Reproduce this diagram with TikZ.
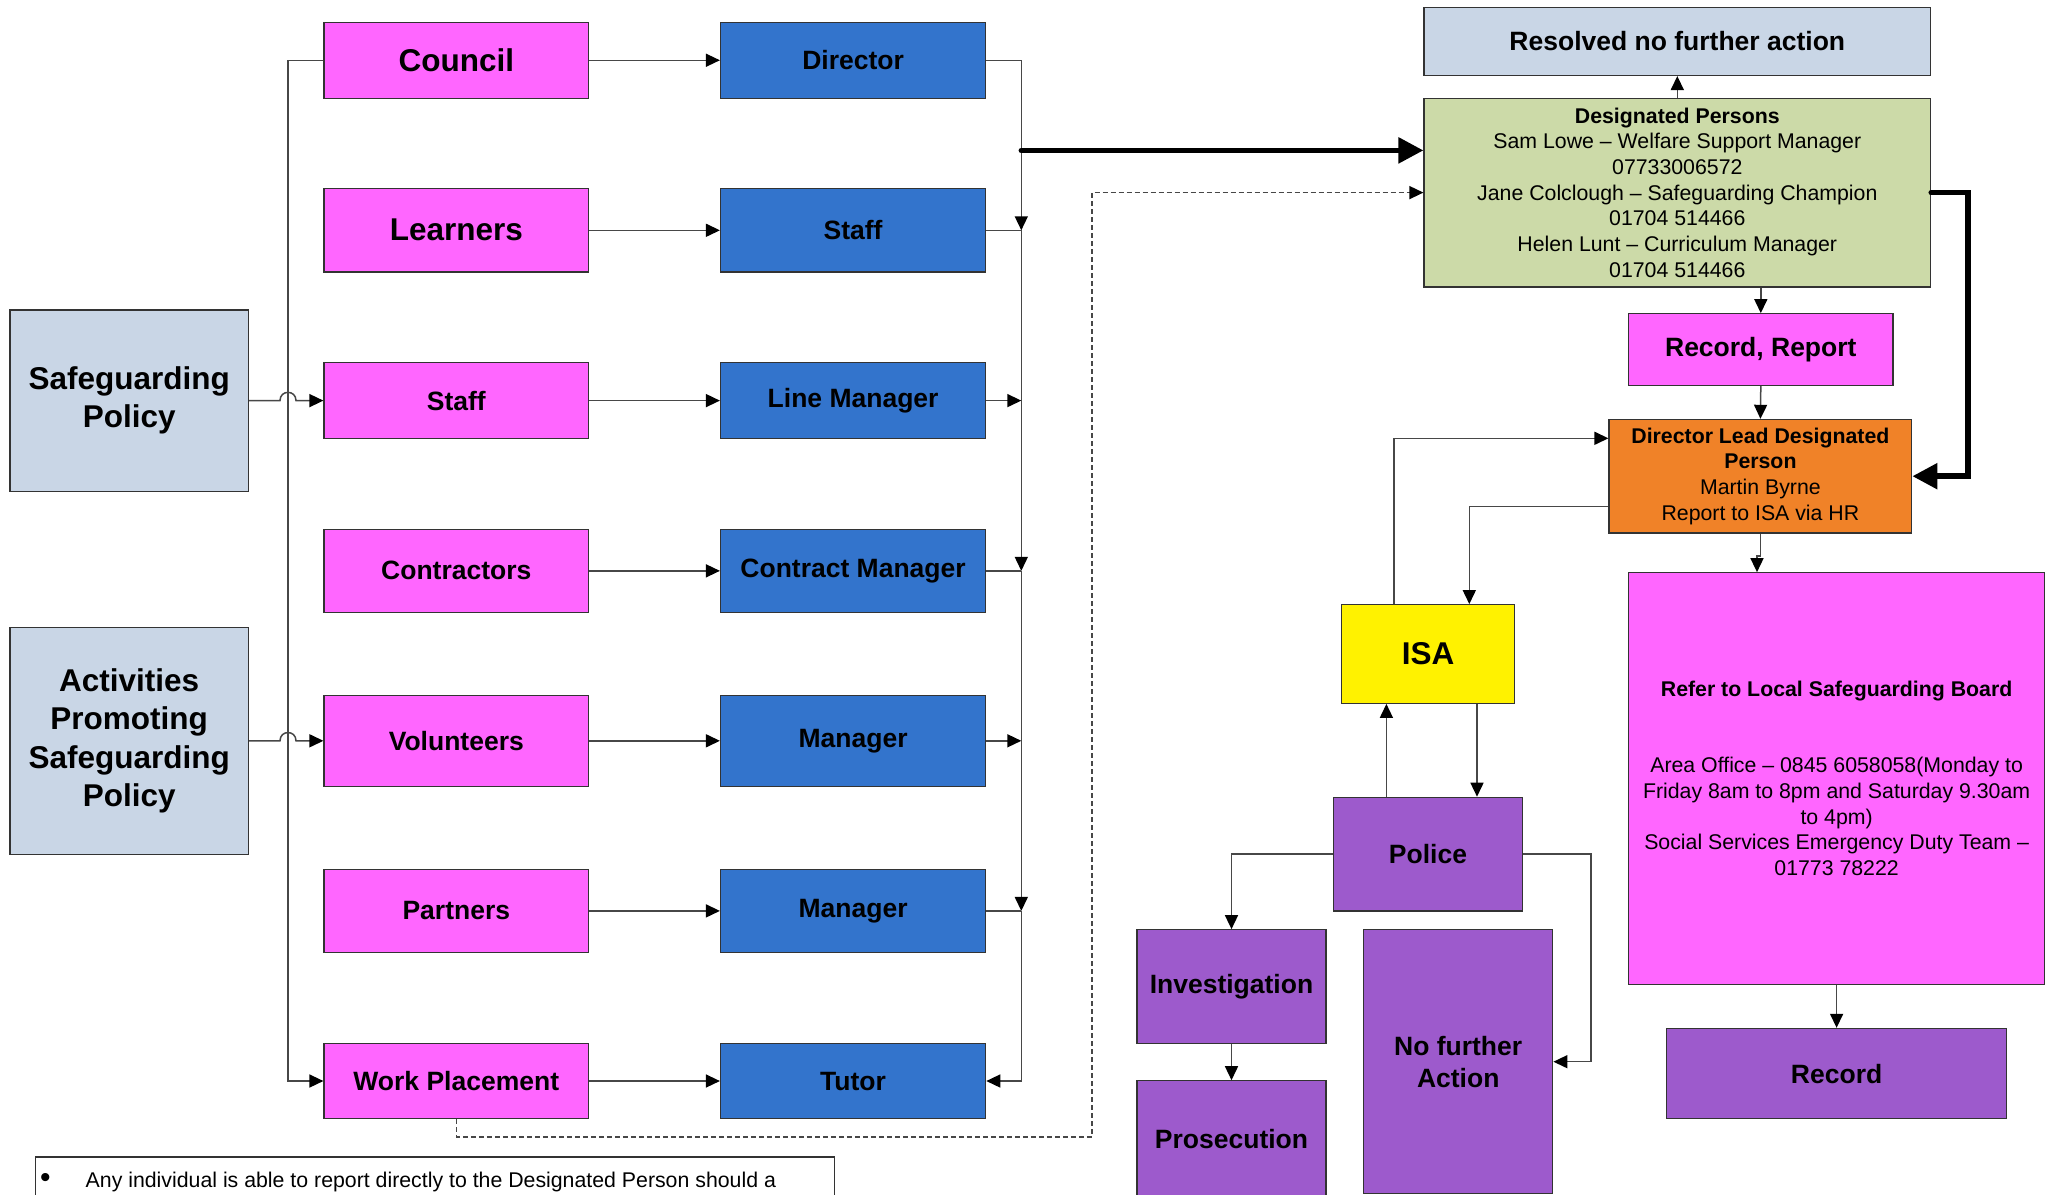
\documentclass[tikz,border=0pt]{standalone}
\usepackage{fontspec}
\setmainfont{Liberation Sans}
\usepackage{tikz}
\usetikzlibrary{arrows.meta,calc}

\definecolor{rosa}{RGB}{255,102,255}
\definecolor{azul}{RGB}{51,116,204}
\definecolor{gris}{RGB}{201,214,230}
\definecolor{verde}{RGB}{204,218,168}
\definecolor{naranja}{RGB}{240,130,40}
\definecolor{morado}{RGB}{157,90,204}

\newcommand{\fgrande}{\fontsize{31.5}{38.4}\selectfont\bfseries}
\newcommand{\fmedio}{\fontsize{26.5}{32}\selectfont\bfseries}
\newcommand{\fchico}{\fontsize{21.3}{25.7}\selectfont}

\begin{document}
\begin{tikzpicture}[x=1pt, y=-1pt,
    caja/.style={draw=black!80, line width=1.2pt, inner sep=0pt, align=center, font=\fmedio},
    rosabox/.style={caja, fill=rosa, minimum width=264.6pt},
    azulbox/.style={caja, fill=azul, minimum width=265.2pt},
    linea/.style={draw=black!72, line width=1.5pt},
    flecha/.style={linea, -{Triangle[length=14pt, width=13pt, color=black]}},
    gruesa/.style={draw=black, line width=5.5pt, line cap=round, -{Triangle[length=25pt, width=25pt]}},
    discont/.style={linea, dashed, dash pattern=on 5pt off 3pt, -{Triangle[length=14pt, width=13pt, color=black]}}]
    \useasboundingbox (0,0) rectangle (2052,1194);

    % Nodos de la izquierda
    \node[caja, fill=gris, minimum width=238.4pt, minimum height=181.3pt, font=\fgrande] (politica) at (129.2, 400.6) {Safeguarding\\Policy};
    \node[caja, fill=gris, minimum width=238.4pt, minimum height=226.6pt, font=\fgrande] (actividades) at (129.2, 740.8) {Activities\\Promoting\\Safeguarding\\Policy};

    \node[rosabox, minimum height=76.1pt, font=\fgrande] (consejo) at (456.3, 60.25) {Council};
    \node[rosabox, minimum height=83.4pt, font=\fgrande] (alumnos) at (456.3, 230.3) {Learners};
    \node[rosabox, minimum height=75.7pt] (personal) at (456.3, 400.6) {Staff};
    \node[rosabox, minimum height=83.3pt] (contratistas) at (456.3, 570.85) {Contractors};
    \node[rosabox, minimum height=90.9pt] (voluntarios) at (456.3, 740.8) {Volunteers};
    \node[rosabox, minimum height=83pt] (socios) at (456.3, 910.9) {Partners};
    \node[rosabox, minimum height=75.6pt] (practicas) at (456.3, 1081) {Work Placement};

    \node[azulbox, minimum height=76.1pt] (director) at (853.1, 60.25) {Director};
    \node[azulbox, minimum height=83.4pt] (staffb) at (853.1, 230.3) {Staff};
    \node[azulbox, minimum height=75.7pt] (jefelinea) at (853.1, 400.6) {Line Manager};
    \node[azulbox, minimum height=83.3pt] (jefecontrato) at (853.1, 570.85) {Contract Manager};
    \node[azulbox, minimum height=90.9pt] (jefe1) at (853.1, 740.8) {Manager};
    \node[azulbox, minimum height=83pt] (jefe2) at (853.1, 910.9) {Manager};
    \node[azulbox, minimum height=75.6pt] (tutor) at (853.1, 1081) {Tutor};

    % Nodos de la derecha
    \node[caja, fill=gris, minimum width=506.6pt, minimum height=68.1pt] (resuelto) at (1677.3, 41.4) {Resolved no further action};
    \node[caja, fill=verde, minimum width=506.6pt, minimum height=188.7pt, font=\fchico] (designados) at (1677.3, 192.6)
        {\textbf{Designated Persons}\\Sam Lowe – Welfare Support Manager\\07733006572\\Jane Colclough – Safeguarding Champion\\01704 514466\\Helen Lunt – Curriculum Manager\\01704 514466};
    \node[caja, fill=rosa, minimum width=264.4pt, minimum height=71.5pt] (registro) at (1760.8, 349.5) {Record, Report};
    \node[caja, fill=naranja, minimum width=302.8pt, minimum height=113.6pt, font=\fchico] (dirlead) at (1760.4, 476.2)
        {\textbf{Director Lead Designated}\\\textbf{Person}\\Martin Byrne\\Report to ISA via HR};
    \node[caja, fill=rosa, minimum width=416pt, minimum height=411.7pt, font=\fchico] (junta) at (1836.6, 778.6)
        {\textbf{Refer to Local Safeguarding Board}\\[50pt]Area Office – 0845 6058058(Monday to\\Friday 8am to 8pm and Saturday 9.30am\\to 4pm)\\Social Services Emergency Duty Team –\\01773 78222};
    \node[caja, fill=morado, minimum width=340.2pt, minimum height=90.4pt] (archivo) at (1836.6, 1073.6) {Record};
    \node[caja, fill=yellow, minimum width=173pt, minimum height=98.6pt, font=\fgrande] (isa) at (1428, 654) {ISA};
    \node[caja, fill=morado, minimum width=189.2pt, minimum height=113.6pt] (policia) at (1428, 854.1) {Police};
    \node[caja, fill=morado, minimum width=189pt, minimum height=113.5pt] (investigacion) at (1231.5, 986.5) {Investigation};
    \node[caja, fill=morado, minimum width=189pt, minimum height=116pt] (proceso) at (1231.5, 1138.8) {Prosecution};
    \node[caja, fill=morado, minimum width=189.2pt, minimum height=264pt] (nada) at (1458.2, 1061.7) {No further\\Action};

    % Nota de abajo
    \node[draw=black!80, line width=1.2pt, minimum width=798.9pt, minimum height=60pt, anchor=north west, inner sep=0pt] (nota) at (34.8, 1156.4) {};
    \node[anchor=base west, inner sep=0pt, font=\fchico] (notatxt) at (40, 1187) {{\fontsize{30}{30}\selectfont •}\hspace{35pt}Any individual is able to report directly to the Designated Person should a};

    % Puntos de los buses
    \coordinate (busizq) at (288, 0);
    \coordinate (busder) at (1021.3, 0);

    % Aristas de la izquierda
    \draw[flecha] (consejo.west) -| (busizq |- practicas) -- (practicas.west);
    \draw[flecha] (politica.east) -- ($(busizq |- politica.east)+(-8,0)$) .. controls +(0,-11) and +(0,-11) .. ($(busizq |- politica.east)+(8,0)$) -- (personal.west);
    \draw[flecha] (actividades.east) -- ($(busizq |- actividades.east)+(-8,0)$) .. controls +(0,-11) and +(0,-11) .. ($(busizq |- actividades.east)+(8,0)$) -- (voluntarios.west);

    \draw[flecha] (consejo) -- (director);
    \draw[flecha] (alumnos) -- (staffb);
    \draw[flecha] (personal) -- (jefelinea);
    \draw[flecha] (contratistas) -- (jefecontrato);
    \draw[flecha] (voluntarios) -- (jefe1);
    \draw[flecha] (socios) -- (jefe2);
    \draw[flecha] (practicas) -- (tutor);

    % Bus de la derecha
    \draw[flecha] (director.east) -| (busder |- staffb);
    \draw[linea] (staffb.east) -- (busder |- staffb);
    \draw[flecha] (busder |- staffb) -- (busder |- jefecontrato);
    \draw[flecha] (jefelinea.east) -- (busder |- jefelinea);
    \draw[linea] (jefecontrato.east) -- (busder |- jefecontrato);
    \draw[flecha] (busder |- jefecontrato) -- (busder |- jefe2);
    \draw[flecha] (jefe1.east) -- (busder |- jefe1);
    \draw[linea] (jefe2.east) -- (busder |- jefe2);
    \draw[flecha] (busder |- jefe2) |- (tutor.east);

    % Hacia las personas designadas
    \coordinate (g1) at (1021.3, 150.4);
    \draw[gruesa] (g1) -- (g1 -| designados.west);
    \coordinate (d1) at (1092, 1136.8);
    \draw[discont] (practicas.south) |- (d1) |- (designados.west);

    % Aristas de la derecha
    \draw[flecha] (designados.north) -- (resuelto.south);
    \draw[flecha] (designados.south -| registro) -- (registro.north);
    \draw[flecha] (registro.south) -- (dirlead.north);
    \draw[gruesa] (designados.east) -- ++(36.7,0) |- (dirlead.east);
    \coordinate (j1) at (1757, 556);
    \draw[flecha] (dirlead.south) |- (j1) -- (j1 |- junta.north);
    \draw[flecha] (junta.south) -- (archivo.north);

    \coordinate (c1) at (1469.3, 506.7);
    \coordinate (c2) at (1394, 438.3);
    \draw[flecha] (dirlead.west |- c1) -| (c1 |- isa.north);
    \draw[flecha] (c2 |- isa.north) |- (dirlead.west |- c2);
    \coordinate (c3) at (1386.4, 0);
    \coordinate (c4) at (1477, 0);
    \draw[flecha] (c3 |- policia.north) -- (c3 |- isa.south);
    \draw[flecha] (c4 |- isa.south) -- (c4 |- policia.north);
    \draw[flecha] (policia.west) -| (investigacion.north);
    \draw[flecha] (policia.east) -- ++(67.8,0) |- (nada.east);
    \draw[flecha] (investigacion.south) -- (proceso.north);
\end{tikzpicture}
\end{document}
